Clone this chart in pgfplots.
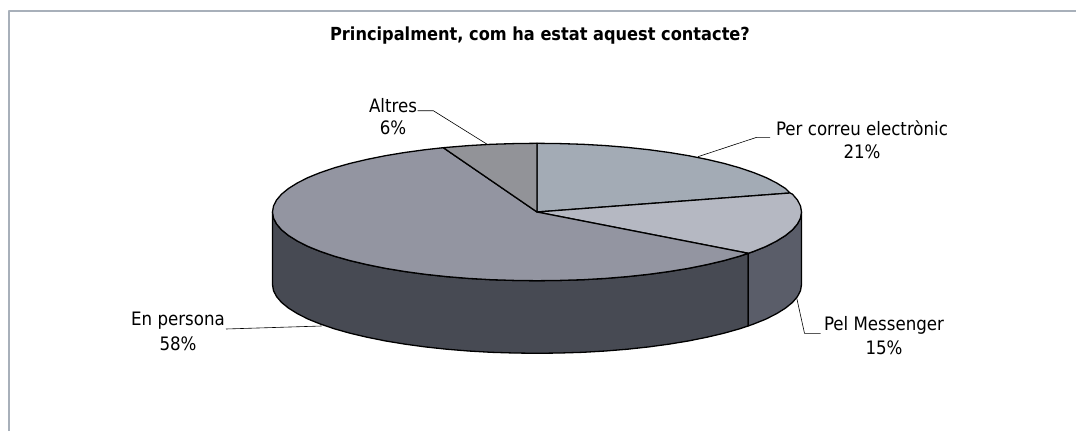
\documentclass[border=0pt]{standalone}
\usepackage{fontspec}
\setmainfont{DejaVu Sans Condensed}
\usepackage{pgfplots}
\pgfplotsset{compat=1.18}
\definecolor{cEmail}{HTML}{A3ABB5}
\definecolor{cMsg}{HTML}{B5B8C2}
\definecolor{cPers}{HTML}{9395A1}
\definecolor{cAltres}{HTML}{929398}
\definecolor{cPersS}{HTML}{474A53}
\definecolor{cMsgS}{HTML}{5A5D69}
\definecolor{cBorder}{HTML}{A8B0BA}
\begin{document}
\begin{tikzpicture}[x=1pt,y=1pt]
\path[use as bounding box] (0,0) rectangle (1076,431);
\begin{axis}[
  at={(0pt,0pt)},anchor=south west,
  scale only axis,width=1076pt,height=431pt,
  xmin=0,xmax=1076,ymin=0,ymax=431,y dir=reverse,
  axis lines=none,clip=true,
  every axis plot/.style={line width=1.3pt,draw=black,line join=round},
  font=\fontsize{18.5}{22}\selectfont
]
% frame
\addplot[draw=cBorder,line width=2pt] coordinates {(8.5,431)(8.5,11)(1076,11)};
% side En persona
\addplot[fill=cPersS] coordinates {
(272.5,212.0)(273.5,218.0)(276.5,223.9)(281.5,229.8)(288.5,235.5)(297.3,241.0)(307.9,246.4)(320.3,251.4)(334.4,256.2)(350.0,260.6)(367.0,264.6)(385.3,268.3)(404.7,271.5)(425.2,274.3)(446.5,276.6)(468.5,278.4)(491.1,279.7)(513.9,280.4)(537.0,280.7)(560.1,280.4)(582.9,279.7)(605.5,278.4)(627.5,276.6)(648.8,274.3)(669.3,271.5)(688.7,268.3)(707.0,264.6)(724.0,260.6)(739.6,256.2)(748.3,253.3)
(748.3,325.9)(739.6,328.8)(724.0,333.2)(707.0,337.2)(688.7,340.9)(669.3,344.1)(648.8,346.9)(627.5,349.2)(605.5,351.0)(582.9,352.3)(560.1,353.0)(537.0,353.3)(513.9,353.0)(491.1,352.3)(468.5,351.0)(446.5,349.2)(425.2,346.9)(404.7,344.1)(385.3,340.9)(367.0,337.2)(350.0,333.2)(334.4,328.8)(320.3,324.0)(307.9,319.0)(297.3,313.6)(288.5,308.1)(281.5,302.4)(276.5,296.5)(273.5,290.6)(272.5,284.6)} -- cycle;
% side Messenger
\addplot[fill=cMsgS] coordinates {
(748.3,253.3)(753.7,251.4)(766.1,246.4)(776.7,241.0)(785.5,235.5)(792.5,229.8)(797.5,223.9)(800.5,218.0)(801.5,212.0)
(801.5,284.6)(800.5,290.6)(797.5,296.5)(792.5,302.4)(785.5,308.1)(776.7,313.6)(766.1,319.0)(753.7,324.0)(748.3,325.9)} -- cycle;
% top: Per correu electronic
\addplot[fill=cEmail] coordinates {
(537,212)(790.0,193.0)(785.5,188.5)(776.7,183.0)(766.1,177.6)(753.7,172.6)(739.6,167.8)(724.0,163.4)(707.0,159.4)(688.7,155.7)(669.3,152.5)(648.8,149.7)(627.5,147.4)(605.5,145.6)(582.9,144.3)(560.1,143.6)(537.0,143.3)} -- cycle;
% top: Pel Messenger
\addplot[fill=cMsg] coordinates {
(537,212)(748.3,253.3)(753.7,251.4)(766.1,246.4)(776.7,241.0)(785.5,235.5)(792.5,229.8)(797.5,223.9)(800.5,218.0)(801.5,212.0)(800.5,206.0)(797.5,200.1)(792.5,194.2)(790.0,193.0)} -- cycle;
% top: En persona
\addplot[fill=cPers] coordinates {
(537,212)(443.3,147.7)(425.2,149.7)(404.7,152.5)(385.3,155.7)(367.0,159.4)(350.0,163.4)(334.4,167.8)(320.3,172.6)(307.9,177.6)(297.3,183.0)(288.5,188.5)(281.5,194.2)(276.5,200.1)(273.5,206.0)(272.5,212.0)(273.5,218.0)(276.5,223.9)(281.5,229.8)(288.5,235.5)(297.3,241.0)(307.9,246.4)(320.3,251.4)(334.4,256.2)(350.0,260.6)(367.0,264.6)(385.3,268.3)(404.7,271.5)(425.2,274.3)(446.5,276.6)(468.5,278.4)(491.1,279.7)(513.9,280.4)(537.0,280.7)(560.1,280.4)(582.9,279.7)(605.5,278.4)(627.5,276.6)(648.8,274.3)(669.3,271.5)(688.7,268.3)(707.0,264.6)(724.0,260.6)(739.6,256.2)(748.3,253.3)} -- cycle;
% top: Altres
\addplot[fill=cAltres] coordinates {
(537,212)(537.0,143.3)(513.9,143.6)(491.1,144.3)(468.5,145.6)(446.5,147.4)(443.3,147.7)} -- cycle;
% leader lines
\addplot[draw=black,line width=0.6pt] coordinates {(417.5,110.7)(433.3,110.7)(486.7,144)};
\addplot[draw=black,line width=0.6pt] coordinates {(698,156.7)(756.7,137.3)(770,137.3)};
\addplot[draw=black,line width=0.6pt] coordinates {(796.7,298)(804.5,333.3)(820.5,333.3)};
\addplot[draw=black,line width=0.6pt] coordinates {(321.7,326)(226,329)};
% texts
\node[font=\fontsize{18}{22}\bfseries] at (axis cs:540,36) {Principalment, com ha estat aquest contacte?};
\node at (axis cs:393,106) {Altres};
\node at (axis cs:393,128) {6\%};
\node at (axis cs:862,128) {Per correu electrònic};
\node at (axis cs:862,152) {21\%};
\node at (axis cs:884,325) {Pel Messenger};
\node at (axis cs:884,348) {15\%};
\node at (axis cs:178,321) {En persona};
\node at (axis cs:178,344) {58\%};
\end{axis}
\end{tikzpicture}
\end{document}
